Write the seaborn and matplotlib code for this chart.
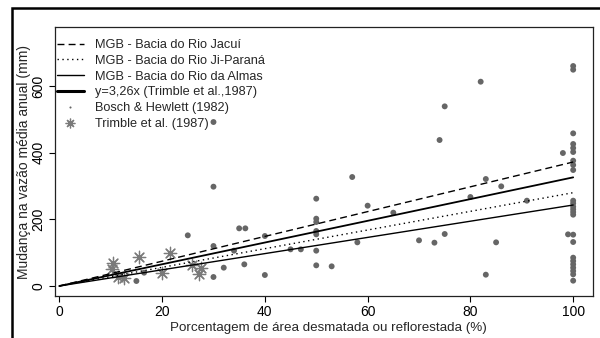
import numpy as np
import pandas as pd
import matplotlib
matplotlib.use("Agg")
import matplotlib.pyplot as plt
from matplotlib.lines import Line2D
from matplotlib.patches import Rectangle
import seaborn as sns

# ---------------- data ----------------
bosch_x = [15, 16.5, 25, 30, 30, 30, 30, 32, 34, 35, 36.2, 36, 40, 40, 45, 47,
           50, 50, 50, 50, 50, 50, 50, 53, 57, 58, 60, 65, 70, 73, 75, 74, 75,
           80, 82, 83, 83, 85, 86, 91, 98, 99,
           100, 100, 100, 100, 100, 100, 100, 100, 100, 100, 100, 100, 100, 100,
           100, 100, 100, 100, 100, 100, 100, 100, 100, 100]
bosch_y = [15, 40, 152, 298, 492, 120, 27, 55, 106, 173, 173, 65, 150, 33, 110, 110,
           262, 202, 192, 165, 155, 106, 62, 59, 327, 131, 241, 220, 137, 130, 156, 438, 539,
           267, 613, 321, 34, 131, 299, 256, 399, 155,
           660, 649, 458, 426, 414, 402, 376, 363, 348, 256, 248, 238, 230, 222,
           214, 154, 132, 85, 75, 65, 55, 45, 35, 16]

trimble_x = [10.5, 10.2, 11.5, 12.5, 15.5, 20, 21.5, 25.8, 27.5, 27.2]
trimble_y = [68, 50, 28, 25, 88, 40, 100, 63, 55, 37]

line_x = [0, 100]
jacui_y = [0, 372]
jiparana_y = [0, 280]
almas_y = [0, 243]
trimble_fit_y = [0, 326]

x_ticks = [0, 20, 40, 60, 80, 100]
y_ticks = [0, 200, 400, 600]

labels = ["MGB - Bacia do Rio Jacuí", "MGB - Bacia do Rio Ji-Paraná",
          "MGB - Bacia do Rio da Almas", "y=3,26x (Trimble et al.,1987)",
          "Bosch & Hewlett (1982)", "Trimble et al. (1987)"]

# ---------------- style ----------------
sns.set_theme(style="ticks")
plt.rcParams['font.family'] = ['Liberation Sans', 'DejaVu Sans']
plt.rcParams['font.size'] = 9.5

W, H = 600, 338
fig = plt.figure(figsize=(6.0, 3.38), dpi=100)
L, R, T, B = 55, 592.7, 26.7, 296
ax = fig.add_axes([L / W, 1 - B / H, (R - L) / W, (B - T) / H])

pts_color = "#666666"
star_color = "#7a7a7a"

df_b = pd.DataFrame({"x": bosch_x, "y": bosch_y})
df_t = pd.DataFrame({"x": trimble_x, "y": trimble_y})

sns.scatterplot(data=df_b, x="x", y="y", ax=ax, color=pts_color, s=18,
                edgecolor="none", legend=False, zorder=3)
sns.scatterplot(data=df_t, x="x", y="y", ax=ax, color=star_color, s=80,
                marker=(8, 2, 0), linewidth=0.9, legend=False, zorder=3)

dash = (5, 3)
dot = (1, 2.5)
sns.lineplot(x=line_x, y=jacui_y, ax=ax, color="black", lw=1.0, zorder=4)
ax.lines[-1].set_dashes(dash)
sns.lineplot(x=line_x, y=jiparana_y, ax=ax, color="black", lw=1.0, zorder=4)
ax.lines[-1].set_dashes(dot)
sns.lineplot(x=line_x, y=almas_y, ax=ax, color="black", lw=1.0, zorder=4)
sns.lineplot(x=line_x, y=trimble_fit_y, ax=ax, color="black", lw=1.3, zorder=4)

ax.set_xlim(-0.84, 103.8)
ax.set_ylim(-30, 778)
ax.set_xticks(x_ticks)
ax.set_yticks(y_ticks)
ax.set_xticklabels([str(v) for v in x_ticks])
ax.set_yticklabels([str(v) for v in y_ticks], rotation=90, va="center")
ax.tick_params(axis="both", direction="out", length=4.3, width=0.8, color="black",
               labelsize=10, pad=2.5, labelcolor="black")
for s in ax.spines.values():
    s.set_visible(True)
    s.set_color("#222222")
    s.set_linewidth(0.9)

ax.set_xlabel("")
ax.set_ylabel("")
fig.text(328 / W, 1 - 328 / H, "Porcentagem de área desmatada ou reflorestada (%)",
         ha="center", va="center", fontsize=9.6)
fig.text(24 / W, 1 - 162 / H, "Mudança na vazão média anual (mm)",
         ha="center", va="center", rotation=90, fontsize=10)

handles = [
    Line2D([], [], color="black", lw=1.0, dashes=dash),
    Line2D([], [], color="black", lw=1.0, dashes=dot),
    Line2D([], [], color="black", lw=1.0),
    Line2D([], [], color="black", lw=2.2),
    Line2D([], [], color=pts_color, lw=0, marker="o", markersize=1.5, markeredgewidth=0),
    Line2D([], [], color=star_color, lw=0, marker=(8, 2, 0), markersize=7, markeredgewidth=0.9),
]
ax.legend(handles, labels, loc="upper left",
          bbox_to_anchor=((57 - L) / (R - L), 1 - (39 - T) / (B - T)),
          frameon=False, fontsize=9.2, handlelength=2.1, handletextpad=0.85,
          labelspacing=0.3, borderpad=0, borderaxespad=0)

# outer figure frame (cut off at right and bottom)
fig.patches.append(Rectangle((12 / W, -0.5), 2.0, (1 - 8 / H) + 0.5,
                             transform=fig.transFigure, fill=False,
                             edgecolor="black", lw=1.8))

fig.savefig("out.png", dpi=100)
